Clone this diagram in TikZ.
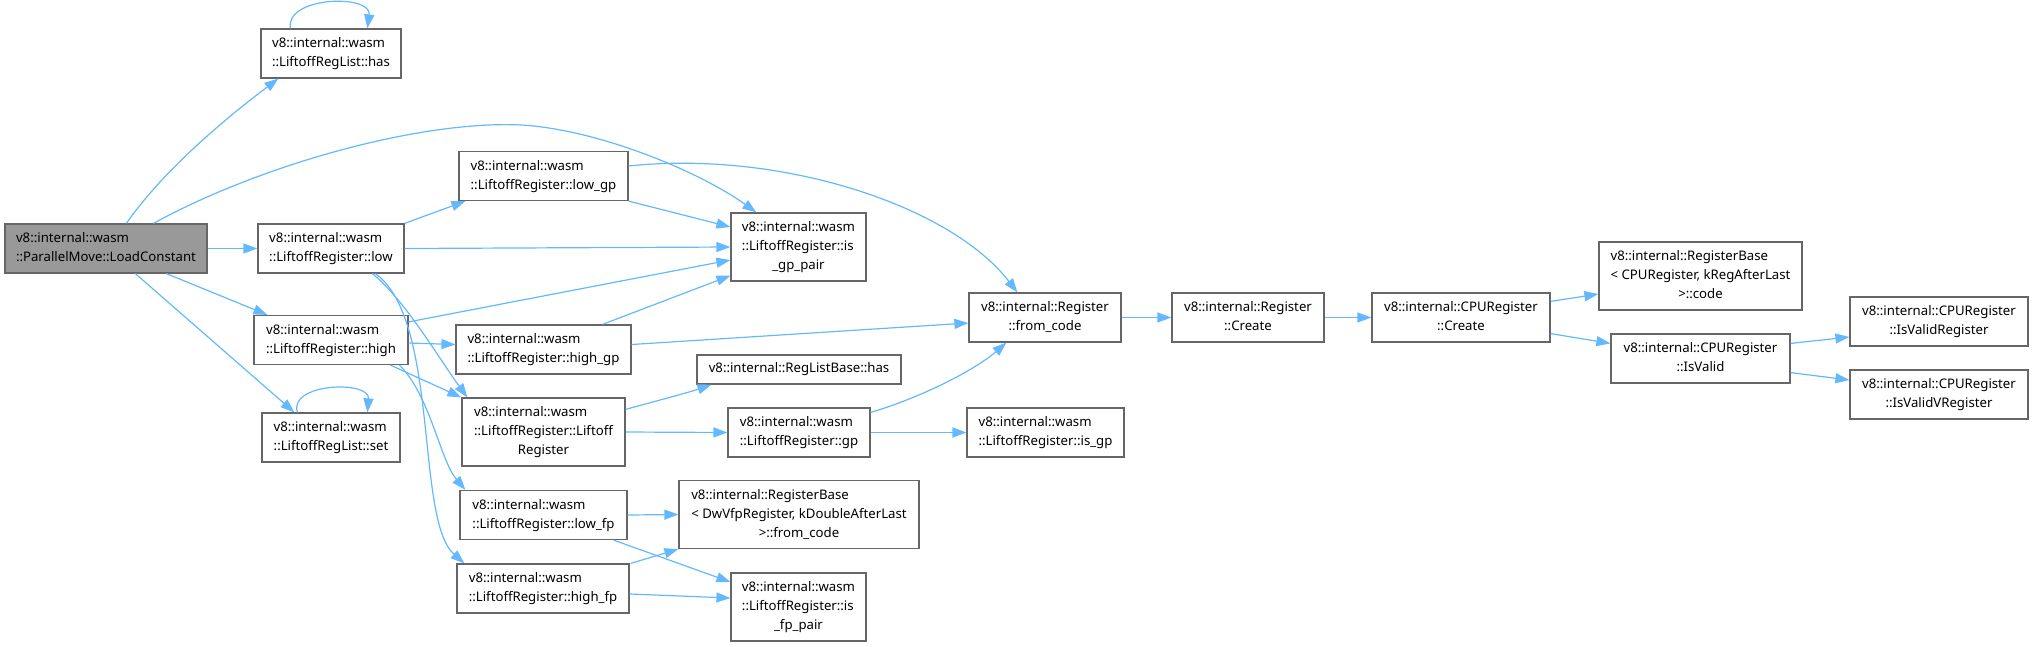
\documentclass[tikz,border=0pt]{standalone}
\usepackage{fontspec}
\setmainfont{Noto Sans}
\usetikzlibrary{arrows.meta,calc}
\definecolor{edgeblue}{HTML}{63B8FF}
\definecolor{boxgray}{HTML}{666666}
\definecolor{rootfill}{HTML}{999999}
\newcommand\nf{\fontsize{13.2}{19}\selectfont}
\newcommand\twol[2]{\begin{tabular}{@{}l@{}}#1\\\multicolumn{1}{@{}c@{}}{#2}\end{tabular}}
\newcommand\threel[3]{\begin{tabular}{@{}l@{}}#1\\#2\\\multicolumn{1}{@{}c@{}}{#3}\end{tabular}}
\tikzset{
  fbox/.style={draw=boxgray, line width=1.2pt, fill=white, inner sep=0pt, font=\nf, minimum height=49pt},
  tall/.style={minimum height=68pt},
  edge/.style={draw=edgeblue, line width=1.2pt, -{Triangle[length=14pt,width=10pt]}},
}
\begin{document}
\begin{tikzpicture}[x=1pt,y=-1pt]
\useasboundingbox (0,0) rectangle (2034,646);
% nodes
\node[fbox, fill=rootfill, minimum width=202pt] (lc) at (106,248.5) {\twol{v8::internal::wasm}{::ParallelMove::LoadConstant}};
\node[fbox, minimum width=140pt] (has) at (331,53.5) {\twol{v8::internal::wasm}{::LiftoffRegList::has}};
\node[fbox, minimum width=169pt] (lowgp) at (543.5,176) {\twol{v8::internal::wasm}{::LiftoffRegister::low\_gp}};
\node[fbox, minimum width=146pt] (low) at (331,248.5) {\twol{v8::internal::wasm}{::LiftoffRegister::low}};
\node[fbox, minimum width=154pt] (high) at (331,340) {\twol{v8::internal::wasm}{::LiftoffRegister::high}};
\node[fbox, minimum width=175pt] (highgp) at (543.5,349.5) {\twol{v8::internal::wasm}{::LiftoffRegister::high\_gp}};
\node[fbox, tall, minimum width=163pt] (ctor) at (543.5,432) {\threel{v8::internal::wasm}{::LiftoffRegister::Liftoff}{Register}};
\node[fbox, minimum width=138pt] (set) at (331,437.5) {\twol{v8::internal::wasm}{::LiftoffRegList::set}};
\node[fbox, minimum width=167pt] (lowfp) at (543.5,515) {\twol{v8::internal::wasm}{::LiftoffRegister::low\_fp}};
\node[fbox, minimum width=172pt] (highfp) at (543,588.5) {\twol{v8::internal::wasm}{::LiftoffRegister::high\_fp}};
\node[fbox, tall, minimum width=135pt] (isgppair) at (798.5,247) {\threel{v8::internal::wasm}{::LiftoffRegister::is}{\_gp\_pair}};
\node[fbox, minimum height=29pt, minimum width=204pt] (rlbhas) at (799,369.5) {v8::internal::RegListBase::has};
\node[fbox, minimum width=142pt] (gp) at (799,432.5) {\twol{v8::internal::wasm}{::LiftoffRegister::gp}};
\node[fbox, tall, minimum width=240pt] (dwvfp) at (799,514.5) {\threel{v8::internal::RegisterBase}{< DwVfpRegister, kDoubleAfterLast}{>::from\_code}};
\node[fbox, tall, minimum width=135pt] (isfppair) at (798.5,607) {\threel{v8::internal::wasm}{::LiftoffRegister::is}{\_fp\_pair}};
\node[fbox, minimum width=152pt] (fromcode) at (1045,317.5) {\twol{v8::internal::Register}{::from\_code}};
\node[fbox, minimum width=157pt] (isgp) at (1045.5,432.5) {\twol{v8::internal::wasm}{::LiftoffRegister::is\_gp}};
\node[fbox, minimum width=152pt] (create) at (1248,317.5) {\twol{v8::internal::Register}{::Create}};
\node[fbox, minimum width=178pt] (cpucreate) at (1461,317.5) {\twol{v8::internal::CPURegister}{::Create}};
\node[fbox, tall, minimum width=203pt] (code) at (1700.5,276) {\threel{v8::internal::RegisterBase}{< CPURegister, kRegAfterLast}{>::code}};
\node[fbox, minimum width=179pt] (isvalid) at (1700.5,358.5) {\twol{v8::internal::CPURegister}{::IsValid}};
\node[fbox, minimum width=178pt] (isvalidreg) at (1939,321.5) {\twol{v8::internal::CPURegister}{::IsValidRegister}};
\node[fbox, minimum width=178pt] (isvalidvreg) at (1939,394.5) {\twol{v8::internal::CPURegister}{::IsValidVRegister}};
% edges
\path[edge] ($(lc.north west)+(122,0)$) .. controls (165,168) and (230,115) .. ($(has.south west)+(18,0)$);
\path[edge] ($(lc.north west)+(149,0)$) .. controls (260,165) and (420,120) .. (522,125) .. controls (600,130) and (700,172) .. ($(isgppair.north west)+(26,0)$);
\path[edge] (lc.east) -- (low.west);
\path[edge] ($(lc.south west)+(162,0)$) -- ($(high.north west)+(14,0)$);
\path[edge] ($(lc.south west)+(131,0)$) -- ($(set.north west)+(33,0)$);
\path[edge] ($(has.north west)+(30,0)$) .. controls (285,-4) and (372,-6) .. ($(has.north west)+(107,0)$);
\path[edge] ($(set.north west)+(36,0)$) .. controls (288,383) and (370,380) .. ($(set.north west)+(106,0)$);
\path[edge] (low.north east) -- ($(lowgp.south west)+(7,0)$);
\path[edge] (low.east) -- (isgppair.west);
\path[edge] ($(low.south west)+(115,0)$) .. controls (405,300) and (440,360) .. ($(ctor.north west)+(6,0)$);
\path[edge] ($(low.south west)+(118,0)$) .. controls (440,320) and (415,520) .. ($(highfp.north west)+(8,0)$);
\path[edge] ($(high.south west)+(137,0)$) -- (ctor.north west);
\path[edge] ($(high.south west)+(146,0)$) .. controls (430,395) and (440,460) .. ($(lowfp.north west)+(6,0)$);
\path[edge] ($(high.east)+(0,3)$) -- ($(highgp.west)+(0,-5)$);
\path[edge] ($(high.north east)+(0,7)$) -- ($(isgppair.west)+(0,13)$);
\path[edge] ($(highgp.north west)+(147,0)$) -- ($(isgppair.south west)+(0,-6)$);
\path[edge] (lowgp.south east) -- ($(isgppair.west)+(0,-20)$);
\path[edge] ($(lowgp.east)+(0,-10)$) .. controls (780,150) and (950,205) .. ($(fromcode.north west)+(49,0)$);
\path[edge] ($(highgp.east)+(0,-5)$) -- ($(fromcode.west)+(0,5.5)$);
\path[edge] ($(ctor.north east)+(0,12)$) .. controls (660,400) and (690,392) .. ($(rlbhas.south west)+(15,0)$);
\path[edge] (ctor.east) -- (gp.west);
\path[edge] ($(gp.north east)+(0,5)$) .. controls (920,398) and (975,370) .. ($(fromcode.south west)+(38,0)$);
\path[edge] (gp.east) -- (isgp.west);
\path[edge] (lowfp.east) -- (dwvfp.west);
\path[edge] ($(lowfp.south east)+(-14,0)$) -- ($(isfppair.west)+(0,-25)$);
\path[edge] ($(highfp.north east)+(1,0)$) -- (dwvfp.south west);
\path[edge] ($(highfp.east)+(0,5.5)$) -- ($(isfppair.west)+(0,-9)$);
\path[edge] (fromcode.east) -- (create.west);
\path[edge] (create.east) -- (cpucreate.west);
\path[edge] ($(cpucreate.north east)+(0,9)$) -- ($(code.west)+(0,18)$);
\path[edge] ($(cpucreate.south east)+(0,-9)$) -- ($(isvalid.north west)+(0,10)$);
\path[edge] ($(isvalid.north east)+(0,10)$) -- ($(isvalidreg.west)+(0,15.5)$);
\path[edge] ($(isvalid.south east)+(0,-11)$) -- ($(isvalidvreg.west)+(0,-14.5)$);
\end{tikzpicture}
\end{document}
